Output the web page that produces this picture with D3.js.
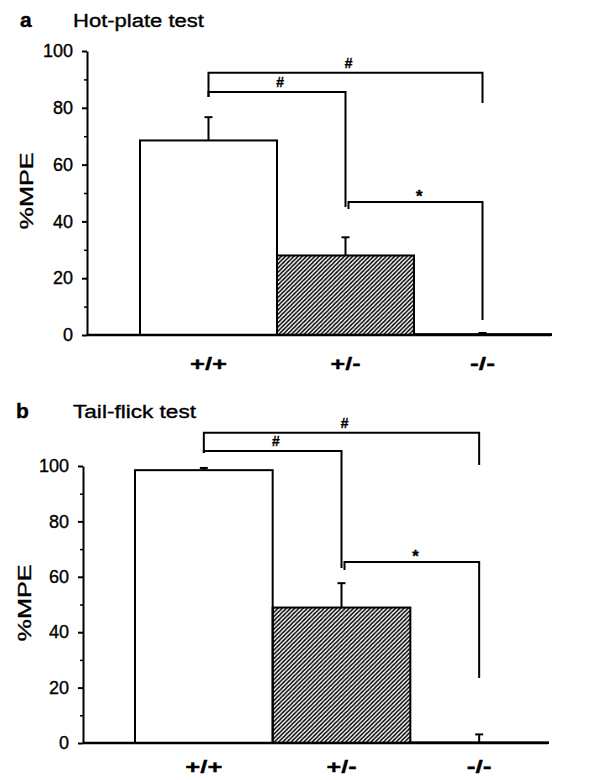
<!DOCTYPE html>
<html>
<head>
<meta charset="utf-8">
<script src="https://cdn.jsdelivr.net/npm/d3@7"></script>
<style>
	body { margin: 0; background: #fff; }
	svg { display: block; font-family: 'Liberation Sans', Arial, sans-serif; }
	text { stroke: #000; stroke-width: 0.35px; }
</style>
</head>
<body>
<div id="chart"></div>
<script>
const width = 601;
const height = 780;

// Data ================================================================
const genotypes = ['+/+', '+/-', '-/-'];
const yTicks = [0, 20, 40, 60, 80, 100];
const yMinorTicks = [10, 30, 50, 70, 90];

// Hot-plate test (%MPE, mean and SEM)
const hotPlateMean = [68.5, 28, 0.3];
const hotPlateSem = [8.2, 6.4, 0.4];
// significance brackets: from group, to group, bar height, leg ends, label
const hotPlateFrom = [0, 0, 1];
const hotPlateTo = [2, 1, 2];
const hotPlateLevel = [92.3, 85.6, 46.8];
const hotPlateLeftEnd = [83.8, 83.8, 44.4];
const hotPlateRightEnd = [81.7, 45.1, 5.3];
const hotPlateMarks = ['#', '#', '*'];

// Tail-flick test
const tailFlickMean = [98.5, 48.9, 0.2];
const tailFlickSem = [0.8, 8.8, 2.9];
const tailFlickFrom = [0, 0, 1];
const tailFlickTo = [2, 1, 2];
const tailFlickLevel = [112, 105.4, 65.3];
const tailFlickLeftEnd = [104.7, 104.7, 62.5];
const tailFlickRightEnd = [100.4, 63.2, 23.5];
const tailFlickMarks = ['#', '#', '*'];
// =================================================================

const svg = d3.select('#chart').append('svg').attr('width', width).attr('height', height);
svg.append('rect').attr('width', width).attr('height', height).attr('fill', '#fff');

// Hatch pattern for the heterozygous bar
const defs = svg.append('defs');
const hatch = defs
	.append('pattern')
	.attr('id', 'hatch')
	.attr('patternUnits', 'userSpaceOnUse')
	.attr('width', 4.2)
	.attr('height', 4.2);
hatch
	.append('path')
	.attr('d', 'M0,4.2 L4.2,0 M-1.05,1.05 L1.05,-1.05 M3.15,5.25 L5.25,3.15')
	.attr('stroke', '#000')
	.attr('stroke-width', 1.5);

function drawPanel(opts) {
	const g = svg.append('g');

	const x = d3.scaleBand().domain(genotypes).range(opts.xRange).padding(0);
	const y = d3.scaleLinear().domain([0, 100]).range(opts.yRange);

	const bars = genotypes.map((k, i) => ({
		key: k,
		mean: opts.mean[i],
		sem: opts.sem[i],
	}));

	// Panel letter and title
	g.append('text')
		.attr('x', opts.letterX)
		.attr('y', opts.titleY)
		.attr('font-size', 21)
		.attr('font-weight', 'bold')
		.text(opts.letter);

	g.append('text')
		.attr('x', 73)
		.attr('y', opts.titleY)
		.attr('font-size', 18)
		.attr('textLength', opts.titleLength)
		.attr('lengthAdjust', 'spacingAndGlyphs')
		.text(opts.title);

	// Y label
	g.append('text')
		.attr('transform', `translate(${opts.yLabelX}, ${opts.yLabelY}) rotate(-90)`)
		.attr('text-anchor', 'middle')
		.attr('font-size', 19)
		.attr('textLength', 77)
		.attr('lengthAdjust', 'spacingAndGlyphs')
		.text('%MPE');

	// Bars
	g.selectAll('.bar')
		.data(bars)
		.enter()
		.append('rect')
		.attr('class', 'bar')
		.attr('x', (d) => x(d.key))
		.attr('width', x.bandwidth())
		.attr('y', (d) => y(d.mean))
		.attr('height', (d) => y(0) - y(d.mean))
		.attr('fill', (d, i) => (i === 1 ? 'url(#hatch)' : '#fff'))
		.attr('stroke', '#000')
		.attr('stroke-width', 2);

	// Error bars (upper only)
	const err = g
		.selectAll('.err')
		.data(bars)
		.enter()
		.append('g')
		.attr('class', 'err')
		.attr('stroke', '#000')
		.attr('stroke-width', 2);
	err.append('line')
		.attr('x1', (d) => x(d.key) + x.bandwidth() / 2)
		.attr('x2', (d) => x(d.key) + x.bandwidth() / 2)
		.attr('y1', (d) => y(d.mean))
		.attr('y2', (d) => y(d.mean + d.sem));
	err.append('line')
		.attr('x1', (d) => x(d.key) + x.bandwidth() / 2 - 4)
		.attr('x2', (d) => x(d.key) + x.bandwidth() / 2 + 4)
		.attr('y1', (d) => y(d.mean + d.sem))
		.attr('y2', (d) => y(d.mean + d.sem));

	// Y axis with minor ticks
	const yAxis = g
		.append('g')
		.attr('transform', `translate(${opts.axisX}, 0)`)
		.call(d3.axisLeft(y).tickValues(yTicks).tickSize(5).tickSizeOuter(0).tickPadding(9));
	yAxis.select('.domain').attr('stroke-width', 2);
	yAxis.selectAll('.tick line').attr('stroke-width', 2);
	yAxis.selectAll('.tick text').attr('font-size', 18).attr('fill', '#000').attr('font-family', null);

	const yMinor = g
		.append('g')
		.attr('transform', `translate(${opts.axisX}, 0)`)
		.call(d3.axisLeft(y).tickValues(yMinorTicks).tickSize(3).tickFormat(''));
	yMinor.select('.domain').remove();
	yMinor.selectAll('.tick line').attr('stroke-width', 1.5);

	// X baseline and category labels
	g.append('line')
		.attr('x1', opts.axisX)
		.attr('x2', opts.xRange[1])
		.attr('y1', y(0))
		.attr('y2', y(0))
		.attr('stroke', '#000')
		.attr('stroke-width', 2.5);

	const xAxis = g
		.append('g')
		.attr('transform', `translate(0, ${y(0)})`)
		.call(d3.axisBottom(x).tickSize(0));
	xAxis.select('.domain').remove();
	xAxis.selectAll('.tick text')
		.attr('y', opts.labelOffset)
		.attr('dy', '0.35em')
		.attr('font-size', 19)
		.attr('font-weight', 'bold')
		.attr('font-family', null)
		.attr('fill', '#000')
		.attr('textLength', (d) => (d === '+/+' ? 37 : d === '+/-' ? 30 : 25))
		.attr('lengthAdjust', 'spacingAndGlyphs');

	// Significance brackets
	const cx = (i) => x(genotypes[i]) + x.bandwidth() / 2;
	opts.from.forEach((f, i) => {
		const t = opts.to[i];
		const x1 = cx(f) + (i === 2 ? 3 : 0);
		const x2 = cx(t);
		const yl = y(opts.level[i]);
		g.append('path')
			.attr(
				'd',
				`M${x1},${y(opts.leftEnd[i])} L${x1},${yl} L${x2},${yl} L${x2},${y(opts.rightEnd[i])}`
			)
			.attr('fill', 'none')
			.attr('stroke', '#000')
			.attr('stroke-width', 2);
		g.append('text')
			.attr('x', (x1 + x2) / 2 + 3)
			.attr('y', yl - (opts.marks[i] === '*' ? 0 : 5))
			.attr('text-anchor', 'middle')
			.attr('font-size', opts.marks[i] === '*' ? 17 : 14)
			.attr('font-weight', 'bold')
			.attr('font-style', 'italic')
			.text(opts.marks[i]);
	});
}

drawPanel({
	letter: 'a',
	letterX: 20,
	title: 'Hot-plate test',
	titleY: 27,
	titleLength: 131,
	yLabelX: 33,
	yLabelY: 191,
	axisX: 87,
	xRange: [140, 551],
	yRange: [335, 51],
	labelOffset: 28,
	mean: hotPlateMean,
	sem: hotPlateSem,
	from: hotPlateFrom,
	to: hotPlateTo,
	level: hotPlateLevel,
	leftEnd: hotPlateLeftEnd,
	rightEnd: hotPlateRightEnd,
	marks: hotPlateMarks,
});

drawPanel({
	letter: 'b',
	letterX: 16,
	title: 'Tail-flick test',
	titleY: 418,
	titleLength: 123,
	yLabelX: 31,
	yLabelY: 603,
	axisX: 83,
	xRange: [135, 548],
	yRange: [743, 466],
	labelOffset: 23,
	mean: tailFlickMean,
	sem: tailFlickSem,
	from: tailFlickFrom,
	to: tailFlickTo,
	level: tailFlickLevel,
	leftEnd: tailFlickLeftEnd,
	rightEnd: tailFlickRightEnd,
	marks: tailFlickMarks,
});
</script>
</body>
</html>
